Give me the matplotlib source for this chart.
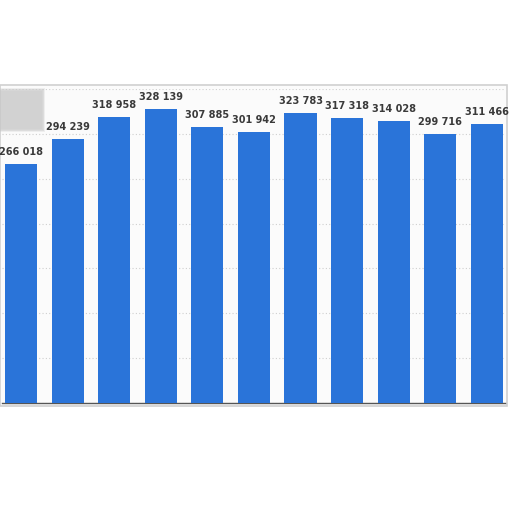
import matplotlib
matplotlib.use('Agg')
import matplotlib.pyplot as plt
from matplotlib.patches import Rectangle

values = [266018, 294239, 318958, 328139, 307885, 301942,
          323783, 317318, 314028, 299716, 311466]
labels = ['{:,}'.format(v).replace(',', ' ') for v in values]

bar_color = '#2a74d9'

fig = plt.figure(figsize=(5.12, 5.12), dpi=100)
fig.patch.set_facecolor('white')

# panel frame with light shadow
frame = Rectangle((0.0, (512 - 406) / 512), 507 / 512, 321 / 512,
                  transform=fig.transFigure, facecolor='#fbfbfb',
                  edgecolor='#d0d0d0', lw=1.2, zorder=-1)
fig.patches.append(frame)

ax = fig.add_axes([2 / 512, (512 - 403) / 512, 503 / 512, 314 / 512])
ax.set_zorder(2)
ax.set_facecolor('#fbfbfb')
x = list(range(len(values)))
ax.bar(x, values, width=0.69, color=bar_color, zorder=3)
ax.set_xlim(-0.41, 10.39)
ax.set_ylim(0, 350000)
ax.set_yticks(range(0, 350001, 50000))
ax.yaxis.grid(True, linestyle=(0, (1, 2)), color='#cfcfcf', lw=0.8, zorder=0)
ax.tick_params(left=False, bottom=False, labelleft=False, labelbottom=False)
for s in ['left', 'right', 'top']:
    ax.spines[s].set_visible(False)
ax.spines['bottom'].set_color('#555555')
ax.spines['bottom'].set_linewidth(1.0)

for xi, v, lab in zip(x, values, labels):
    ax.annotate(lab, (xi, v), xytext=(0, 5), textcoords='offset points',
                ha='center', va='bottom', fontsize=7, fontweight='bold',
                color='#3a3a3a', family='DejaVu Sans', zorder=4)

# blurred box at top left, built from soft layers
for k in range(5):
    grow = (4 - k) * 0.8
    fig.patches.append(Rectangle(((-2 - grow) / 512, (512 - 129 - grow) / 512),
                                 (44 + 2 * grow) / 512, (38 + 2 * grow) / 512,
                                 transform=fig.transFigure, facecolor='#c8c8c8',
                                 edgecolor='none', alpha=0.25, zorder=10))

fig.savefig('out.png', dpi=100)
